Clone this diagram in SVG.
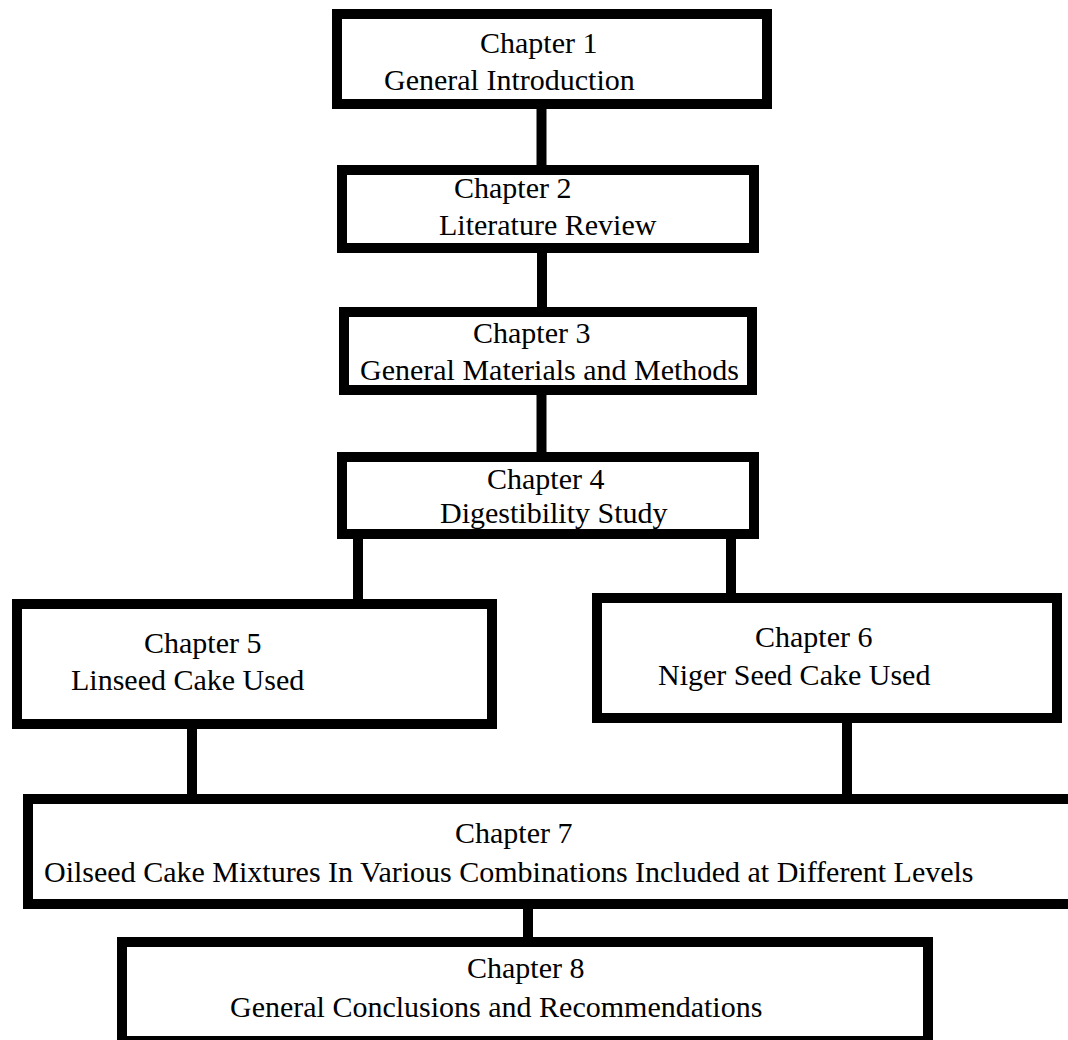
<svg xmlns="http://www.w3.org/2000/svg" width="1068" height="1040" viewBox="0 0 1068 1040">
<style>
.box{fill:#fff;stroke:#000;stroke-width:10}
.con{stroke:#000;stroke-width:10;fill:none}
text{font-family:"Liberation Serif","Times New Roman",serif;font-size:30px;fill:#000}
</style>
<rect width="1068" height="1040" fill="#fff"/>
<g id="connectors">
<line class="con" x1="541.5" y1="104" x2="541.5" y2="170"/>
<line class="con" x1="542" y1="248" x2="542" y2="312"/>
<line class="con" x1="541.5" y1="390" x2="541.5" y2="457"/>
<line class="con" x1="358" y1="534" x2="358" y2="604"/>
<line class="con" x1="731" y1="534" x2="731" y2="605"/>
<line class="con" x1="192" y1="724" x2="192" y2="799"/>
<line class="con" x1="847" y1="718" x2="847" y2="799"/>
<line class="con" x1="528" y1="898" x2="528" y2="942"/>
</g>
<g id="ch1">
<rect class="box" x="337" y="14" width="430" height="90"/>
<text x="480" y="53">Chapter 1</text>
<text x="384" y="90">General Introduction</text>
</g>
<g id="ch2">
<rect class="box" x="342" y="170" width="412" height="78"/>
<text x="454" y="198">Chapter 2</text>
<text x="439" y="235">Literature Review</text>
</g>
<g id="ch3">
<rect class="box" x="344" y="312" width="408" height="78"/>
<text x="473" y="343">Chapter 3</text>
<text x="360" y="380">General Materials and Methods</text>
</g>
<g id="ch4">
<rect class="box" x="342" y="457" width="412" height="77"/>
<text x="487" y="489">Chapter 4</text>
<text x="440" y="523">Digestibility Study</text>
</g>
<g id="ch5">
<rect class="box" x="17" y="604" width="475" height="120"/>
<text x="144" y="653">Chapter 5</text>
<text x="71" y="690">Linseed Cake Used</text>
</g>
<g id="ch6">
<rect class="box" x="597" y="598" width="460" height="120"/>
<text x="755" y="647">Chapter 6</text>
<text x="658" y="685">Niger Seed Cake Used</text>
</g>
<g id="ch7">
<rect class="box" x="28" y="799" width="1050" height="105"/>
<text x="455" y="843">Chapter 7</text>
<text x="44" y="882">Oilseed Cake Mixtures In Various Combinations Included at Different Levels</text>
</g>
<g id="ch8">
<rect class="box" x="122" y="942" width="806" height="99"/>
<text x="467" y="978">Chapter 8</text>
<text x="230" y="1017">General Conclusions and Recommendations</text>
</g>
</svg>
